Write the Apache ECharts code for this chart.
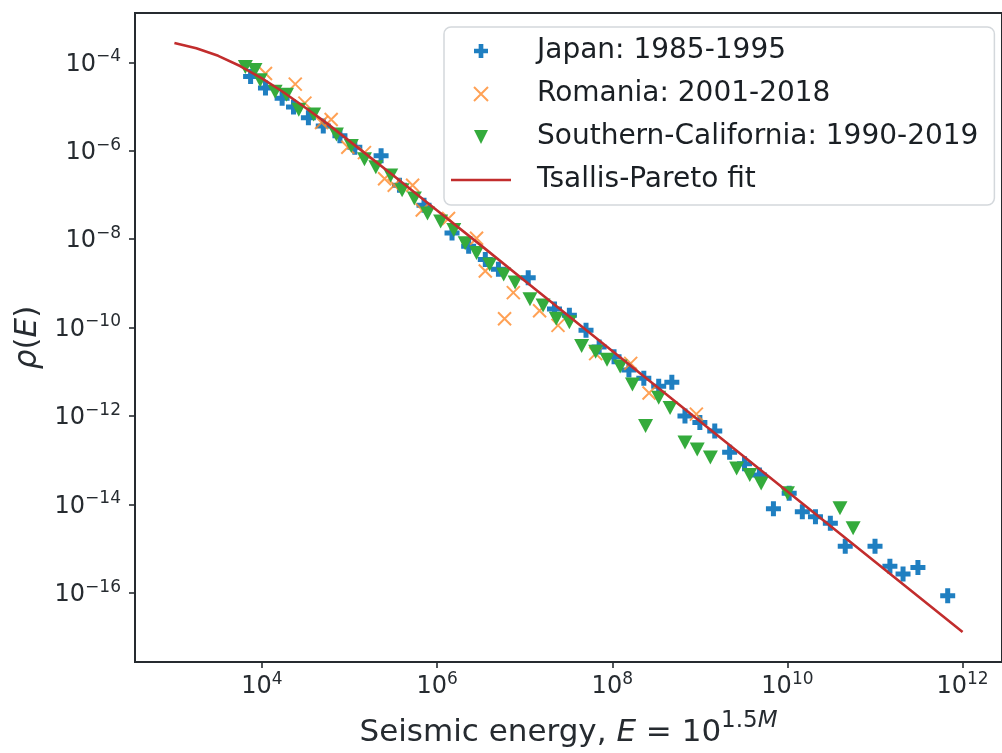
<!DOCTYPE html>
<html>
<head>
<meta charset="utf-8">
<script src="https://cdn.jsdelivr.net/npm/echarts@6/dist/echarts.min.js"></script>
<style>
  html, body { margin: 0; padding: 0; background: #fff; }
  #chart { width: 1002px; height: 753px; }
</style>
</head>
<body>
<div id="chart"></div>
<script>
// Catalogue densities, stored as log10(E) and log10(rho(E)); both axes run in decades
const japanLogE = [3.87, 4.04, 4.23, 4.36, 4.53, 4.70, 4.89, 5.06, 5.36, 5.57, 5.85, 6.17, 6.36, 6.55, 6.70, 7.04, 7.34, 7.51, 7.70, 7.85, 8.02, 8.19, 8.36, 8.53, 8.68, 8.83, 9.00, 9.17, 9.34, 9.51, 9.68, 9.84, 10.02, 10.17, 10.32, 10.49, 10.66, 11.00, 11.17, 11.32, 11.49, 11.83];
const japanLogRho = [-4.32, -4.58, -4.81, -5.01, -5.25, -5.44, -5.66, -5.92, -6.11, -6.78, -7.23, -7.86, -8.16, -8.46, -8.68, -8.87, -9.58, -9.72, -10.06, -10.44, -10.66, -10.96, -11.15, -11.33, -11.24, -12.00, -12.15, -12.34, -12.82, -13.08, -13.34, -14.10, -13.75, -14.17, -14.28, -14.43, -14.95, -14.95, -15.40, -15.58, -15.43, -16.07];

const romaniaLogE = [4.04, 4.38, 4.49, 4.68, 4.79, 4.98, 5.17, 5.40, 5.51, 5.72, 5.83, 6.13, 6.45, 6.55, 6.77, 6.87, 7.17, 7.38, 7.81, 8.21, 8.42, 8.96];
const romaniaLogRho = [-4.25, -4.49, -4.92, -5.36, -5.29, -5.92, -6.04, -6.63, -6.78, -6.78, -7.34, -7.53, -7.98, -8.72, -9.80, -9.21, -9.62, -9.95, -10.59, -10.81, -11.48, -11.96];

const californiaLogE = [3.81, 3.92, 3.98, 4.15, 4.28, 4.42, 4.59, 4.85, 5.02, 5.17, 5.30, 5.47, 5.60, 5.74, 5.89, 6.04, 6.19, 6.32, 6.45, 6.60, 6.76, 6.89, 7.06, 7.21, 7.36, 7.51, 7.65, 7.81, 7.94, 8.09, 8.23, 8.38, 8.53, 8.66, 8.83, 8.97, 9.12, 9.42, 9.57, 9.70, 10.00, 10.60, 10.75];
const californiaLogRho = [-4.10, -4.17, -4.40, -4.66, -4.73, -5.07, -5.18, -5.63, -5.89, -6.19, -6.37, -6.56, -6.89, -7.08, -7.42, -7.60, -7.79, -8.09, -8.31, -8.57, -8.80, -8.98, -9.36, -9.50, -9.80, -9.88, -10.42, -10.55, -10.73, -10.88, -11.29, -12.23, -11.59, -11.82, -12.60, -12.76, -12.94, -13.19, -13.34, -13.53, -13.75, -14.09, -14.54];

// Tsallis-Pareto fit curve
const fitLogE = [3.0, 3.25, 3.5, 3.75, 4.0, 4.25, 4.5, 4.75, 5.0, 5.5, 6.0, 6.5, 7.0, 8.0, 9.0, 10.0, 11.0, 12.0];
const fitLogRho = [-3.56, -3.68, -3.85, -4.08, -4.36, -4.68, -5.03, -5.39, -5.78, -6.56, -7.35, -8.14, -8.94, -10.53, -12.12, -13.71, -15.30, -16.89];

const seriesNames = ['Japan: 1985-1995', 'Romania: 2001-2018', 'Southern-California: 1990-2019', 'Tsallis-Pareto fit'];

// Labelled decades and axis limits (in decades)
const xTickExponents = [4, 6, 8, 10, 12];
const yTickExponents = [-16, -14, -12, -10, -8, -6, -4];
const xLogLimits = [2.55, 12.45];
const yLogLimits = [-17.57, -2.88];

const COLORS = { japan: '#1f7fc1', romania: '#ff8a2a', california: '#34ab3c', fit: '#c22d2d' };
const INK = '#262b30';
const FONT = 'DejaVu Sans';

const zip = (xs, ys) => xs.map((x, i) => [x, ys[i]]);

const PLUS = 'path://M-1,-3H1V-1H3V1H1V3H-1V1H-3V-1H-1Z';
const CROSS = 'path://M0,0L10,10M0,10L10,0';
const TRI_DOWN = 'path://M-1,-1L1,-1L0,1Z';
const LINE_KEY = 'path://M0,0H60V2.6H0Z';

// "10" with the decade as a superscript
function powerLabel(v) {
  const r = Math.round(v);
  const exp = r < 0 ? '\u2212' + (-r) : String(r);
  return '{b|10}{s|' + exp + '}';
}

const tickRich = {
  b: { fontFamily: FONT, fontSize: 24, color: INK, lineHeight: 28, verticalAlign: 'bottom' },
  s: { fontFamily: FONT, fontSize: 17, color: INK, lineHeight: 16, verticalAlign: 'top' }
};

const chart = echarts.init(document.getElementById('chart'), null, { renderer: 'canvas' });

chart.setOption({
  backgroundColor: '#ffffff',
  animation: false,
  grid: {
    left: 135, top: 13, width: 875, height: 655,
    show: true, borderColor: INK, borderWidth: 2, backgroundColor: 'transparent'
  },
  legend: {
    orient: 'vertical',
    left: 444, top: 27,
    padding: [9, 16, 10, 7],
    backgroundColor: 'rgba(255,255,255,0.85)',
    borderColor: '#d4d8dc', borderWidth: 1.5, borderRadius: 7,
    itemWidth: 60, itemHeight: 14, itemGap: 13,
    textStyle: { fontFamily: FONT, fontSize: 28, color: '#1a1f24', lineHeight: 30, padding: [0, 0, 0, 21] },
    data: [
      { name: seriesNames[0] },
      { name: seriesNames[1] },
      { name: seriesNames[2] },
      { name: seriesNames[3], icon: LINE_KEY, itemStyle: { color: COLORS.fit } }
    ]
  },
  xAxis: {
    type: 'value',
    min: xLogLimits[0], max: xLogLimits[1],
    axisLine: { show: true, lineStyle: { color: INK, width: 2 } },
    axisTick: { show: true, length: 6, customValues: xTickExponents, lineStyle: { color: INK, width: 1.6 } },
    splitLine: { show: false },
    axisLabel: { margin: 9, customValues: xTickExponents, formatter: powerLabel, rich: tickRich },
    name: '{n|Seismic energy, }{i|E}{n| = 10}{s|1.5}{si|M}',
    nameLocation: 'middle', nameGap: 48,
    nameTextStyle: {
      rich: {
        n: { fontFamily: FONT, fontSize: 31, color: INK, lineHeight: 38, verticalAlign: 'bottom' },
        i: { fontFamily: FONT, fontStyle: 'italic', fontSize: 31, color: INK, lineHeight: 38, verticalAlign: 'bottom' },
        s: { fontFamily: FONT, fontSize: 23, color: INK, lineHeight: 22, verticalAlign: 'top' },
        si: { fontFamily: FONT, fontStyle: 'italic', fontSize: 23, color: INK, lineHeight: 22, verticalAlign: 'top' }
      }
    }
  },
  yAxis: {
    type: 'value',
    min: yLogLimits[0], max: yLogLimits[1],
    axisLine: { show: true, lineStyle: { color: INK, width: 2 } },
    axisTick: { show: true, length: 6, customValues: yTickExponents, lineStyle: { color: INK, width: 1.6 } },
    splitLine: { show: false },
    axisLabel: { margin: 14, customValues: yTickExponents, formatter: powerLabel, rich: tickRich },
    name: '{i|\u03C1}{n|(}{i|E}{n|)}',
    nameLocation: 'middle', nameRotate: 90, nameGap: 92,
    nameTextStyle: {
      rich: {
        n: { fontFamily: FONT, fontSize: 31, color: INK },
        i: { fontFamily: FONT, fontStyle: 'italic', fontSize: 31, color: INK }
      }
    }
  },
  series: [
    {
      name: seriesNames[0], type: 'scatter',
      data: zip(japanLogE, japanLogRho),
      symbol: PLUS, symbolSize: 15,
      itemStyle: { color: COLORS.japan, opacity: 1 },
      z: 2
    },
    {
      name: seriesNames[1], type: 'scatter',
      data: zip(romaniaLogE, romaniaLogRho),
      symbol: CROSS, symbolSize: 13,
      itemStyle: { color: 'rgba(0,0,0,0)', borderColor: COLORS.romania, borderWidth: 2 },
      z: 2
    },
    {
      name: seriesNames[2], type: 'scatter',
      data: zip(californiaLogE, californiaLogRho),
      symbol: TRI_DOWN, symbolSize: [15, 14],
      itemStyle: { color: COLORS.california, opacity: 1 },
      z: 2
    },
    {
      name: seriesNames[3], type: 'line',
      data: zip(fitLogE, fitLogRho),
      showSymbol: false, symbol: 'none',
      lineStyle: { color: COLORS.fit, width: 2.6 },
      itemStyle: { color: COLORS.fit },
      z: 3
    }
  ]
});
</script>
</body>
</html>
